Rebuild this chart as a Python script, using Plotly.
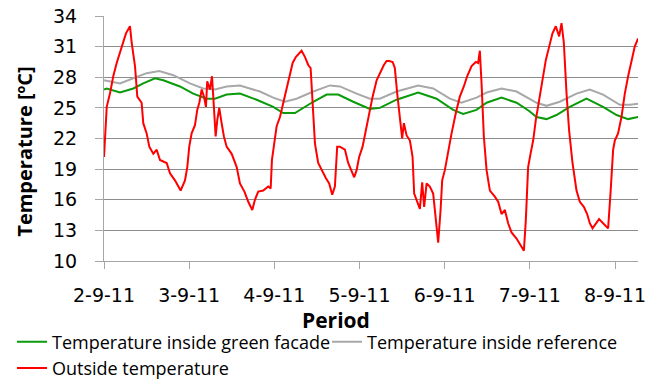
import pandas as pd
import plotly.graph_objects as go

START = "2011-09-02"

# Outside temperature (days since start, °C)
red_days = [0.000, 0.032, 0.070, 0.109, 0.149, 0.208, 0.258, 0.305, 0.325, 0.364, 0.391, 0.442, 0.461,
            0.501, 0.532, 0.579, 0.619, 0.657, 0.736, 0.775, 0.833, 0.900, 0.951, 0.978, 1.001, 1.029,
            1.068, 1.095, 1.119, 1.147, 1.174, 1.197, 1.212, 1.244, 1.268, 1.283, 1.311, 1.330, 1.353,
            1.381, 1.408, 1.440, 1.499, 1.558, 1.596, 1.649, 1.694, 1.741, 1.772, 1.811, 1.870, 1.928,
            1.957, 1.972, 1.999, 2.027, 2.066, 2.104, 2.144, 2.183, 2.215, 2.254, 2.292, 2.320, 2.359,
            2.398, 2.426, 2.450, 2.477, 2.515, 2.555, 2.606, 2.644, 2.680, 2.711, 2.738, 2.770, 2.829,
            2.867, 2.907, 2.938, 2.966, 2.996, 3.036, 3.075, 3.114, 3.154, 3.201, 3.239, 3.286, 3.318,
            3.349, 3.389, 3.415, 3.443, 3.474, 3.501, 3.521, 3.553, 3.592, 3.623, 3.642, 3.677, 3.709,
            3.736, 3.759, 3.788, 3.826, 3.865, 3.897, 3.924, 3.952, 3.971, 4.002, 4.041, 4.081, 4.131,
            4.178, 4.225, 4.264, 4.316, 4.366, 4.393, 4.413, 4.433, 4.460, 4.492, 4.531, 4.589, 4.628,
            4.668, 4.707, 4.745, 4.785, 4.844, 4.891, 4.930, 4.953, 4.980, 5.008, 5.039, 5.070, 5.109,
            5.149, 5.188, 5.227, 5.266, 5.305, 5.344, 5.372, 5.399, 5.431, 5.461, 5.501, 5.548, 5.587,
            5.634, 5.673, 5.704, 5.736, 5.775, 5.813, 5.860, 5.919, 5.947, 5.978, 5.998, 6.036, 6.076,
            6.115, 6.154, 6.194, 6.232, 6.271]
red_temp = [20.2, 25.1, 26.4, 28.1, 29.4, 31.0, 32.3, 33.0, 31.4, 29.1, 26.1, 25.5, 23.5,
            22.5, 21.2, 20.5, 20.9, 19.9, 19.6, 18.6, 17.9, 16.9, 17.9, 19.2, 21.2, 22.5,
            23.3, 24.8, 25.5, 26.8, 26.1, 25.1, 27.6, 26.8, 28.1, 26.1, 22.2, 23.8, 25.0,
            23.5, 22.2, 21.2, 20.5, 19.2, 17.6, 16.8, 15.8, 15.0, 16.0, 16.8, 16.9, 17.3,
            17.1, 19.9, 21.5, 23.2, 24.1, 25.5, 26.8, 28.4, 29.4, 30.0, 30.4, 30.6, 30.0,
            29.2, 28.9, 25.5, 21.5, 19.6, 18.9, 18.1, 17.6, 16.5, 17.3, 21.2, 21.2, 20.9,
            19.6, 18.9, 18.2, 18.9, 20.2, 21.2, 22.8, 24.5, 26.1, 27.7, 28.4, 29.2, 29.6,
            29.6, 29.5, 28.9, 26.4, 23.8, 22.0, 23.5, 22.3, 21.8, 20.2, 16.6, 15.9, 15.1,
            17.7, 15.3, 17.6, 17.3, 16.6, 14.3, 11.8, 15.0, 17.9, 18.9, 20.9, 22.5, 24.5,
            26.1, 27.1, 28.1, 29.1, 29.5, 29.4, 30.6, 27.4, 22.2, 18.9, 16.9, 16.3, 15.8,
            14.6, 15.0, 13.7, 12.8, 12.2, 11.5, 11.0, 14.0, 19.2, 20.5, 21.8, 23.8, 25.8,
            27.7, 29.7, 31.0, 32.3, 33.0, 32.0, 33.3, 31.4, 26.4, 22.8, 19.6, 16.9, 15.8,
            15.3, 14.6, 13.7, 13.2, 13.7, 14.1, 13.7, 13.2, 16.6, 20.9, 21.8, 22.5, 24.1,
            26.4, 28.1, 29.7, 31.0, 31.8]

# Temperature inside green facade
green_days = [0.000, 0.032, 0.188, 0.344, 0.461, 0.599, 0.696, 0.892, 1.048, 1.205, 1.303, 1.440,
              1.596, 1.792, 1.987, 2.104, 2.242, 2.339, 2.457, 2.614, 2.750, 2.926, 3.122, 3.239,
              3.435, 3.689, 3.905, 4.100, 4.217, 4.374, 4.492, 4.668, 4.844, 4.992, 5.079, 5.196,
              5.313, 5.469, 5.665, 5.860, 6.018, 6.154, 6.271]
green_temp = [26.8, 26.9, 26.5, 26.9, 27.4, 27.9, 27.7, 27.1, 26.4, 25.9, 25.9, 26.3,
              26.4, 25.8, 25.1, 24.5, 24.5, 25.0, 25.6, 26.3, 26.3, 25.6, 24.9, 25.0,
              25.8, 26.5, 25.9, 24.8, 24.4, 24.8, 25.5, 26.0, 25.5, 24.7, 24.1, 23.9,
              24.3, 25.1, 25.9, 25.1, 24.3, 23.9, 24.1]

# Temperature inside reference
gray_days = [0.000, 0.188, 0.344, 0.501, 0.649, 0.814, 1.009, 1.165, 1.303, 1.440, 1.596, 1.831,
             1.987, 2.124, 2.261, 2.457, 2.653, 2.770, 2.966, 3.122, 3.239, 3.435, 3.689, 3.865,
             4.061, 4.198, 4.374, 4.492, 4.668, 4.844, 4.992, 5.079, 5.196, 5.352, 5.548, 5.704,
             5.860, 6.056, 6.174, 6.271]
gray_temp = [27.7, 27.4, 27.9, 28.4, 28.6, 28.2, 27.4, 26.9, 26.8, 27.1, 27.2, 26.6,
             26.0, 25.6, 25.9, 26.6, 27.2, 27.1, 26.4, 25.9, 25.9, 26.6, 27.2, 26.9,
             25.9, 25.5, 26.0, 26.5, 26.9, 26.6, 25.9, 25.5, 25.2, 25.6, 26.4, 26.8,
             26.3, 25.3, 25.3, 25.4]

X_END_DAYS = 6.27
Y_TICKS = [10, 13, 16, 19, 22, 25, 28, 31, 34]

base = pd.Timestamp(START)


def to_dt(days):
    return [base + pd.Timedelta(days=d) for d in days]


FONT = "Open Sans"
TICKFONT = "DejaVu Sans"
fig = go.Figure()
fig.add_trace(go.Scatter(x=to_dt(green_days), y=green_temp, mode="lines",
                         name="Temperature inside green facade",
                         line=dict(color="#0a9a0a", width=2)))
fig.add_trace(go.Scatter(x=to_dt(gray_days), y=gray_temp, mode="lines",
                         name="Temperature inside reference",
                         line=dict(color="#a8a8a8", width=2)))
fig.add_trace(go.Scatter(x=to_dt(red_days), y=red_temp, mode="lines",
                         name="Outside temperature",
                         line=dict(color="#ff0000", width=2)))

fig.update_layout(
    width=648, height=382,
    margin=dict(l=104, r=10, t=16, b=121, autoexpand=False),
    paper_bgcolor="white", plot_bgcolor="white",
    font=dict(family=FONT, size=20, color="black"),
    showlegend=True,
    legend=dict(orientation="h", x=-0.1723, xanchor="left", y=-0.255, yanchor="top",
                font=dict(family=FONT, size=18, color="black"),
                bgcolor="rgba(0,0,0,0)", tracegroupgap=0, itemwidth=30,
                entrywidth=270, entrywidthmode="pixels"),
    annotations=[
        dict(text="<b>Period</b>", xref="paper", yref="paper", x=0.4345, y=-0.241,
             xanchor="center", yanchor="middle", showarrow=False,
             font=dict(family=FONT, size=21, color="black")),
        dict(text="<b>Temperature [ºC]</b>", xref="paper", yref="paper", x=-0.148, y=0.446,
             xanchor="center", yanchor="middle", showarrow=False, textangle=-90,
             font=dict(family=FONT, size=20, color="black")),
    ],
)

fig.update_xaxes(
    type="date", range=[base, base + pd.Timedelta(days=X_END_DAYS)],
    tick0=START, dtick=86400000, tickformat="%-d-%-m-%y",
    ticks="outside", ticklen=7, tickcolor="#a6a6a6", tickwidth=1,
    showline=True, linecolor="#a6a6a6", linewidth=1,
    showgrid=False, zeroline=False,
    tickfont=dict(family=TICKFONT, size=19, color="black"),
    ticklabelstandoff=10,
)
fig.update_yaxes(
    range=[10, 34], tickvals=Y_TICKS,
    ticks="outside", ticklen=8, tickcolor="#a6a6a6", tickwidth=1,
    showline=True, linecolor="#a6a6a6", linewidth=1,
    showgrid=True, gridcolor="#8c8c8c", gridwidth=1, zeroline=False,
    tickfont=dict(family=TICKFONT, size=19, color="black"),
    ticklabelstandoff=14,
)

fig.write_html("out.html")
